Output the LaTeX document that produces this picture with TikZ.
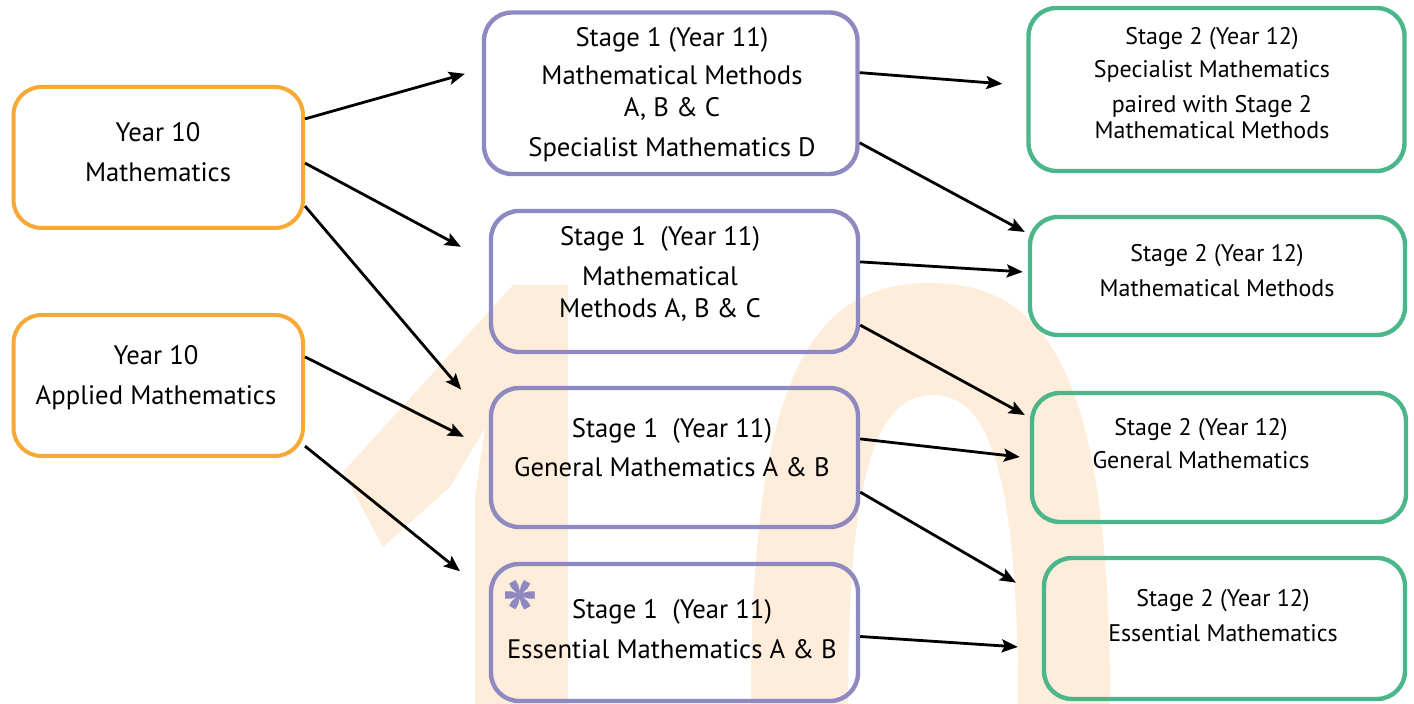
\documentclass[tikz,border=0pt]{standalone}
\usepackage{fontspec}
\setmainfont{PT Sans}
\usepackage{tikz}
\usetikzlibrary{arrows.meta}
\definecolor{yrorange}{HTML}{F6A935}
\definecolor{sonepurple}{HTML}{8E89C0}
\definecolor{stwogreen}{HTML}{4AB68A}
\definecolor{wmark}{HTML}{FEEDDA}
\begin{document}
\begin{tikzpicture}[x=0.5pt,y=-0.5pt]
\tikzstyle{box}=[rectangle,rounded corners=14pt,inner sep=0pt]
\tikzstyle{year10}=[box,draw=yrorange,line width=2pt,minimum width=144.75pt,minimum height=70.5pt]
\tikzstyle{stage1}=[box,draw=sonepurple,line width=2.2pt,minimum width=183.5pt]
\tikzstyle{stage2}=[box,draw=stwogreen,line width=2.2pt]
\tikzstyle{txt}=[align=center,inner sep=0pt,font=\fontsize{13.35}{16}\selectfont]
\tikzstyle{txtsmall}=[align=center,inner sep=0pt,font=\fontsize{12}{13}\selectfont]
\tikzstyle{flow}=[-{Stealth[length=8pt,width=6.5pt,inset=1.5pt]},line width=1.4pt]
\useasboundingbox (0,0) rectangle (1414,704);
\fill[wmark] (513,285) -- (568,285) -- (568,704) -- (475,704) -- (475,497) -- (485,428)
  -- (450,487) -- (383,547) -- (343,472) -- cycle;
\fill[wmark] (751,704) .. controls (751,380) and (810,283) .. (930,283)
  .. controls (1050,283) and (1110,380) .. (1110,704) -- (1018,704)
  .. controls (1018,460) and (985,395) .. (933,395)
  .. controls (880,395) and (848,460) .. (848,704) -- cycle;
\node[year10] (year10 maths) at (158.25,157.5) {};
\node[year10] (year10 applied) at (158.25,385.5) {};
\node[stage1] (mm spec) at (670.75,93.25) [minimum width=186.75pt,minimum height=80.75pt] {};
\node[stage1] (mm abc) at (674.5,281.5) [minimum height=70.5pt] {};
\node[stage1] (general ab) at (674.5,457.5) [minimum height=69.5pt] {};
\node[stage1] (essential ab) at (674.5,632.5) [minimum height=68.5pt] {};
\node[stage2] (spec paired) at (1216.5,89.5) [minimum width=188pt,minimum height=81.5pt] {};
\node[stage2] (methods) at (1217.5,276) [minimum width=187.5pt,minimum height=59pt] {};
\node[stage2] (general) at (1219,457.5) [minimum width=187pt,minimum height=64.5pt] {};
\node[stage2] (essential) at (1224.5,628.5) [minimum width=180.5pt,minimum height=70.5pt] {};
\node[txt] (year10 maths text) at (158,152) {Year 10\\[4pt]Mathematics};
\node[txt] (year10 applied text) at (156,378) {Year 10\\[4pt]Applied Mathematics};
\node[txt] (mm spec text) at (672,95) {Stage 1 (Year 11)\\[3pt]Mathematical Methods\\A, B \& C\\[4pt]Specialist Mathematics D};
\node[txt] (mm abc text) at (660,274) {Stage 1\ \ (Year 11)\\[4pt]Mathematical\\Methods A, B \& C};
\node[txt] (general ab text) at (672,447.5) {Stage 1\ \ (Year 11)\\[3.5pt]General Mathematics A \& B};
\node[txt] (essential ab text) at (672,629) {Stage 1\ \ (Year 11)\\[4pt]Essential Mathematics A \& B};
\node[text=sonepurple,inner sep=0pt,text height=14pt,text depth=0pt,font=\fontsize{50}{50}\selectfont\bfseries] (essential star) at (520,596) {\raisebox{-22pt}{*}};
\node[txtsmall] (spec paired text) at (1212,83) {Stage 2 (Year 12)\\[3.5pt]Specialist Mathematics\\[4.5pt]paired with Stage 2\\Mathematical Methods};
\node[txtsmall] (methods text) at (1217,270.5) {Stage 2 (Year 12)\\[4.5pt]Mathematical Methods};
\node[txtsmall] (general text) at (1201,443.5) {Stage 2 (Year 12)\\[3.5pt]General Mathematics};
\node[txtsmall] (essential text) at (1223,615.5) {Stage 2 (Year 12)\\[4.5pt]Essential Mathematics};
\draw[flow,shorten >=8.8pt] ([yshift=19.3pt]year10 maths.east) -- ([yshift=12.1pt]mm spec.west);
\draw[flow,shorten >=15.8pt] ([yshift=-2.8pt]year10 maths.east) -- ([yshift=9.9pt]mm abc.west);
\draw[flow,shorten >=21.3pt] ([yshift=-24.3pt]year10 maths.east) -- ([yshift=17.7pt]general ab.west);
\draw[flow,shorten >=13.9pt] ([yshift=14.3pt]year10 applied.east) -- ([yshift=4.1pt]general ab.west);
\draw[flow,shorten >=18.5pt] ([yshift=-30.3pt]year10 applied.east) -- ([yshift=19pt]essential ab.west);
\draw[flow,shorten >=12pt] ([yshift=10.3pt]mm spec.east) -- ([yshift=1.9pt]spec paired.west);
\draw[flow,shorten >=1.7pt] ([yshift=-24.8pt]mm spec.east) -- ([yshift=21.2pt]methods.west);
\draw[flow,shorten >=2.5pt] ([yshift=9.8pt]mm abc.east) -- ([yshift=1.9pt]methods.west);
\draw[flow,shorten >=2.8pt] ([yshift=-21.8pt]mm abc.east) -- ([yshift=19.9pt]general.west);
\draw[flow,shorten >=5pt] ([yshift=9.3pt]general ab.east) -- ([yshift=-0.3pt]general.west);
\draw[flow,shorten >=15pt] ([yshift=-17.3pt]general ab.east) -- ([yshift=15.4pt]essential.west);
\draw[flow,shorten >=12pt] ([yshift=-2pt]essential ab.east) -- ([yshift=-10pt]essential.west);
\end{tikzpicture}
\end{document}
